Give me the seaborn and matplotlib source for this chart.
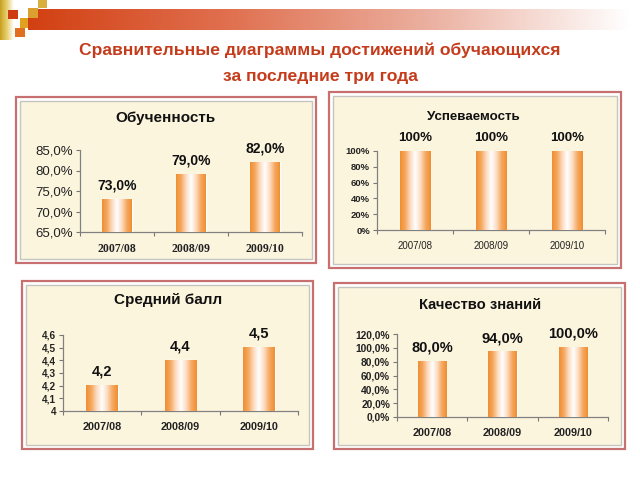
import numpy as np
import pandas as pd
import matplotlib
matplotlib.use("Agg")
import matplotlib.pyplot as plt
import seaborn as sns
from matplotlib.patches import Rectangle
from matplotlib.colors import LinearSegmentedColormap

# ---------------- data ----------------
years = ["2007/08", "2008/09", "2009/10"]
obuchennost = [73.0, 79.0, 82.0]
uspevaemost = [100, 100, 100]
sredniy_ball = [4.2, 4.4, 4.5]
kachestvo = [80.0, 94.0, 100.0]

obuch_ticks = [65, 70, 75, 80, 85]
usp_ticks = [0, 20, 40, 60, 80, 100]
ball_ticks = [4.0, 4.1, 4.2, 4.3, 4.4, 4.5, 4.6]
kach_ticks = [0, 20, 40, 60, 80, 100, 120]

main_title = ["Сравнительные диаграммы достижений обучающихся", "за последние три года"]

sns.set_theme(style="white")
plt.rcParams["font.family"] = ["Liberation Sans", "DejaVu Sans"]

W, H = 640, 480
fig = plt.figure(figsize=(6.4, 4.8), dpi=100)
fig.patch.set_facecolor("white")


def fx(x):
    return x / W


def fy(y):
    return 1 - y / H


def frect(x0, y0, x1, y1, **kw):
    r = Rectangle((fx(x0), fy(y1)), fx(x1) - fx(x0), fy(y0) - fy(y1),
                  transform=fig.transFigure, **kw)
    fig.add_artist(r)
    return r


# ---------- header decoration ----------
hdr = fig.add_axes([fx(28), fy(30), fx(630) - fx(28), fy(9) - fy(30)])
hdr.axis("off")
hcm = LinearSegmentedColormap.from_list("h", ["#d24012", "#e07050", "#ebb0a0", "#ffffff"])
hdr.imshow(np.linspace(0, 1, 256)[None, :], aspect="auto", cmap=hcm, extent=[0, 1, 0, 1])
hdr.set_xlim(0, 1); hdr.set_ylim(0, 1)
lft = fig.add_axes([0, fy(40), fx(14), fy(0) - fy(40)])
lft.axis("off")
lcm = LinearSegmentedColormap.from_list("l", ["#c8a020", "#e8d070", "#ffffff"])
lft.imshow(np.linspace(0, 1, 64)[None, :], aspect="auto", cmap=lcm, extent=[0, 1, 0, 1])
lft.set_xlim(0, 1); lft.set_ylim(0, 1)
frect(8, 10, 18, 19, facecolor="#d03a10", edgecolor="none", zorder=5)
frect(28, 8, 38, 18, facecolor="#dca030", edgecolor="none", zorder=5)
frect(38, 0, 47, 8, facecolor="#d8b040", edgecolor="none", zorder=5)
frect(20, 18, 28, 28, facecolor="#e0a020", edgecolor="none", zorder=5)
frect(15, 28, 25, 37, facecolor="#e07020", edgecolor="none", zorder=5)

# ---------- main title ----------
fig.text(0.5, fy(50), main_title[0], ha="center", va="center", fontsize=12.6,
         fontweight="bold", color="#c43c1c")
fig.text(0.5, fy(76), main_title[1], ha="center", va="center", fontsize=12.6,
         fontweight="bold", color="#c43c1c")

bar_cmap = LinearSegmentedColormap.from_list(
    "bar", ["#f08e30", "#f5a860", "#fddcc0", "#ffffff", "#fddcc0", "#f5a860", "#f08e30"])
grad = np.linspace(0, 1, 128)[None, :]


def panel(box, axpx, values, ticks, ylim, tick_fmt, val_fmt, title, title_xy,
          title_fs, tick_fs, tick_bold, xlab_fs, xlab_bold, xlab_family, val_fs):
    x0, y0, x1, y1 = box
    frect(x0, y0, x1, y1, facecolor="white", edgecolor="#c87070", lw=1.6, zorder=1)
    frect(x0 + 4, y0 + 4, x1 - 4, y1 - 4, facecolor="#fcf5de", edgecolor="#c4c4c0",
          lw=1.0, zorder=1.5)
    fig.text(fx(title_xy[0]), fy(title_xy[1]), title, ha="center", va="center",
             fontsize=title_fs, fontweight="bold", color="#111111", zorder=10)

    ax0, ay0, ax1, ay1 = axpx
    ax = fig.add_axes([fx(ax0), fy(ay1), fx(ax1) - fx(ax0), fy(ay0) - fy(ay1)], zorder=5)
    ax.set_facecolor("none")
    df = pd.DataFrame({"year": years, "value": values})
    sns.barplot(data=df, x="year", y="value", color="#f08e30", width=0.4,
                saturation=1, ax=ax, zorder=3)
    lo, hi = ylim
    for p in ax.patches:
        bx, by, bw, bh = p.get_x(), p.get_y(), p.get_width(), p.get_height()
        ax.imshow(grad, extent=[bx, bx + bw, max(by, lo), min(by + bh, hi)],
                  aspect="auto", cmap=bar_cmap, zorder=3.5)
    ax.set_xlim(-0.5, 2.5)
    ax.set_ylim(lo, hi)
    ax.set_aspect("auto")
    ax.bar_label(ax.containers[0], labels=[val_fmt(v) for v in values], padding=5,
                 fontsize=val_fs, fontweight="bold", color="#111111")
    ax.set_yticks(ticks)
    ax.set_yticklabels([tick_fmt(t) for t in ticks], fontsize=tick_fs,
                       fontweight="bold" if tick_bold else "normal", color="#222222")
    ax.set_xticks(range(len(years)))
    ax.set_xticklabels(years, fontsize=xlab_fs,
                       fontweight="bold" if xlab_bold else "normal",
                       family=xlab_family, color="#222222")
    ax.set_xticks([-0.5, 0.5, 1.5, 2.5], minor=True)
    ax.tick_params(axis="x", which="major", length=0, pad=8)
    ax.tick_params(axis="x", which="minor", length=3, width=0.8, color="#777777",
                   direction="out", bottom=True)
    ax.tick_params(axis="y", length=3, width=0.8, color="#777777", direction="out",
                   left=True, pad=2)
    ax.set_xlabel("")
    ax.set_ylabel("")
    for s in ["top", "right"]:
        ax.spines[s].set_visible(False)
    for s in ["left", "bottom"]:
        ax.spines[s].set_color("#808080")
        ax.spines[s].set_linewidth(0.9)
    ax.grid(False)
    return ax


pct1 = lambda v: f"{v:.1f}%".replace(".", ",")
pct0 = lambda v: f"{v:.0f}%"
dec1 = lambda v: (f"{v:.1f}".replace(".", ",") if abs(v - round(v)) > 1e-9 else f"{v:.0f}")

panel((16, 97, 316, 263), (80, 150, 302, 232), obuchennost, obuch_ticks, (65, 85),
      pct1, pct1, "Обученность", (165, 118), 11, 9.5, False, 8.5, True,
      ["Liberation Serif", "DejaVu Serif"], 10)
panel((329, 92, 621, 268), (377, 151, 605, 230), uspevaemost, usp_ticks, (0, 100),
      pct0, pct0, "Успеваемость", (473, 117), 9.6, 6.8, True, 7, False,
      ["Liberation Sans", "DejaVu Sans"], 9.5)
panel((22, 281, 313, 449), (63, 335, 298, 411), sredniy_ball, ball_ticks, (4.0, 4.6),
      dec1, dec1, "Средний балл", (168, 300), 11, 7.2, True, 7.8, True,
      ["Liberation Sans", "DejaVu Sans"], 10.5)
panel((334, 283, 625, 449), (397, 334, 608, 417), kachestvo, kach_ticks, (0, 120),
      pct1, pct1, "Качество знаний", (480, 305), 10.6, 7.4, True, 7.8, True,
      ["Liberation Sans", "DejaVu Sans"], 10.5)

fig.savefig("out.png", dpi=100, facecolor="white")
